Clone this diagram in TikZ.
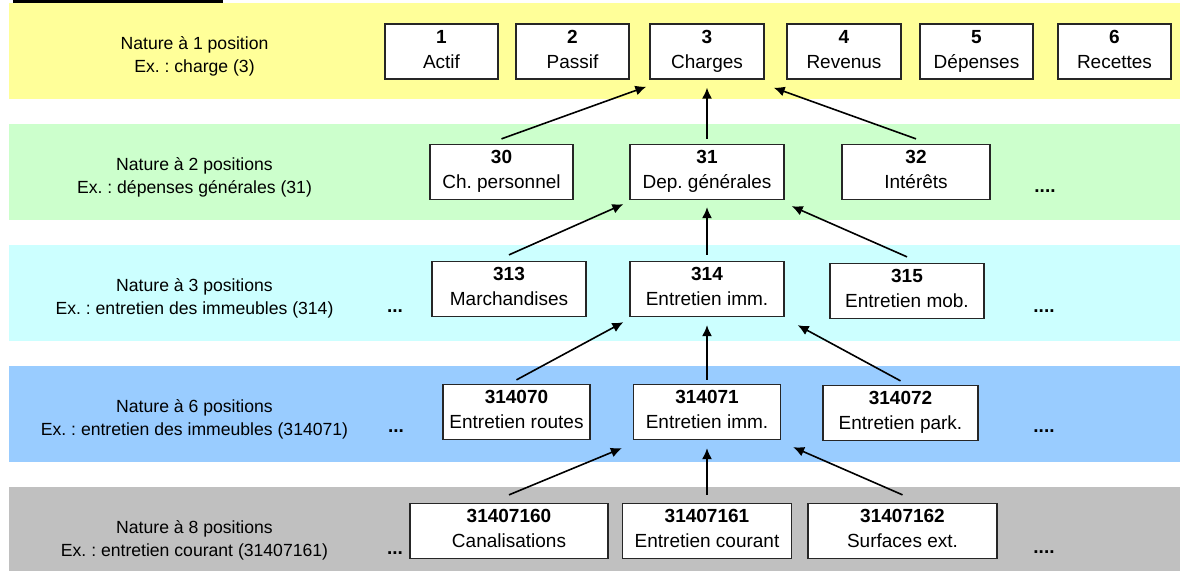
\documentclass[tikz,border=0pt]{standalone}
\usepackage{fontspec}
\setmainfont{Liberation Sans}
\usetikzlibrary{arrows.meta}
\definecolor{band1}{HTML}{FFFF99}
\definecolor{band2}{HTML}{CCFFCC}
\definecolor{band3}{HTML}{CCFFFF}
\definecolor{band6}{HTML}{99CCFF}
\definecolor{band8}{HTML}{C0C0C0}
\frenchspacing

\begin{document}
\begin{tikzpicture}[x=1pt,y=-1pt,>={Latex[length=11pt,width=10pt]},
box/.style={rectangle, draw=black!85, line width=1.3pt, fill=white, inner sep=0pt,
  minimum height=55pt, align=center, font=\fontsize{19}{25}\selectfont,
  execute at begin node=\rule{0pt}{20pt}, execute at end node=\rule[-5pt]{0pt}{5pt}},
level/.style={align=center, font=\fontsize{17.6}{22.7}\selectfont},
more/.style={anchor=base, font=\fontsize{19}{25}\selectfont\bfseries},
link/.style={line width=1.6pt,->},
]
\useasboundingbox (0,0) rectangle (1180,570);
\fill (13,0) rectangle (223,2.5);
%bands
\fill[band1] (9,3) rectangle (1180,99);
\fill[band2] (9,124) rectangle (1180,220);
\fill[band3] (9,245) rectangle (1180,341);
\fill[band6] (9,366) rectangle (1180,462);
\fill[band8] (9,487) rectangle (1180,583);
%levels
\node (l1) [level] at (194.5,56) {Nature à 1 position\\Ex. : charge (3)};
\node (l2) [level] at (194.5,177) {Nature à 2 positions\\Ex. : dépenses générales (31)};
\node (l3) [level] at (194.5,298) {Nature à 3 positions\\Ex. : entretien des immeubles (314)};
\node (l6) [level] at (194.5,419) {Nature à 6 positions\\Ex. : entretien des immeubles (314071)};
\node (l8) [level] at (194.5,540) {Nature à 8 positions\\Ex. : entretien courant (31407161)};
%first row
\node (n1) [box, minimum width=113pt] at (441.5,51.5) {\textbf{1}\\Actif};
\node (n2) [box, minimum width=113pt] at (572.5,51.5) {\textbf{2}\\Passif};
\node (n3) [box, minimum width=114pt] at (707,51.5) {\textbf{3}\\Charges};
\node (n4) [box, minimum width=114pt] at (844,51.5) {\textbf{4}\\Revenus};
\node (n5) [box, minimum width=113pt] at (976.5,51.5) {\textbf{5}\\Dépenses};
\node (n6) [box, minimum width=113pt] at (1114.5,51.5) {\textbf{6}\\Recettes};
%second row
\node (n30) [box, minimum width=143pt] at (501.5,172) {\textbf{30}\\Ch. personnel};
\node (n31) [box, minimum width=154pt] at (707,172) {\textbf{31}\\Dep. générales};
\node (n32) [box, minimum width=148pt] at (916,172) {\textbf{32}\\Intérêts};
\node (d2r) [more] at (1045,192) {....};
%third row
\node (n313) [box, minimum width=154pt] at (509,289) {\textbf{313}\\Marchandises};
\node (n314) [box, minimum width=154pt] at (707,289) {\textbf{314}\\Entretien imm.};
\node (n315) [box, minimum width=154pt] at (907,291) {\textbf{315}\\Entretien mob.};
\node (d3l) [more] at (395,312) {...};
\node (d3r) [more] at (1044,312) {....};
%fourth row
\node (n314070) [box, minimum width=147pt] at (516.5,412) {\textbf{314070}\\Entretien routes};
\node (n314071) [box, minimum width=147pt] at (707,412) {\textbf{314071}\\Entretien imm.};
\node (n314072) [box, minimum width=155pt] at (900.5,413) {\textbf{314072}\\Entretien park.};
\node (d6l) [more] at (396,432.5) {...};
\node (d6r) [more] at (1044,432.5) {....};
%fifth row
\node (n31407160) [box, minimum width=198pt] at (509,531) {\textbf{31407160}\\Canalisations};
\node (n31407161) [box, minimum width=169pt] at (707,531) {\textbf{31407161}\\Entretien courant};
\node (n31407162) [box, minimum width=189pt] at (902.5,531) {\textbf{31407162}\\Surfaces ext.};
\node (d8l) [more] at (395,554) {...};
\node (d8r) [more] at (1044,553) {....};
%links
\draw [link] ([yshift=5pt]n30.north) -- ([shift={(-3pt,-7pt)}]n3.south west);
\draw [link] ([yshift=5pt]n31.north) -- ([yshift=-8pt]n3.south);
\draw [link] ([yshift=5pt]n32.north) -- ([shift={(9pt,-8pt)}]n3.south east);
\draw [link] ([yshift=6pt]n313.north) -- ([shift={(-6pt,-4pt)}]n31.south west);
\draw [link] ([yshift=6pt]n314.north) -- ([yshift=-7pt]n31.south);
\draw [link] ([yshift=6pt]n315.north) -- ([shift={(7pt,-6pt)}]n31.south east);
\draw [link] ([yshift=4pt]n314070.north) -- ([shift={(-6pt,-5pt)}]n314.south west);
\draw [link] ([yshift=4pt]n314071.north) -- ([yshift=-8pt]n314.south);
\draw [link] ([yshift=4pt]n314072.north) -- ([shift={(13pt,-8pt)}]n314.south east);
\draw [link] ([yshift=8pt]n31407160.north) -- ([shift={(-11pt,-8pt)}]n314071.south west);
\draw [link] ([yshift=8pt]n31407161.north) -- ([yshift=-8pt]n314071.south);
\draw [link] ([yshift=8pt]n31407162.north) -- ([shift={(12pt,-7pt)}]n314071.south east);
\end{tikzpicture}
\end{document}
